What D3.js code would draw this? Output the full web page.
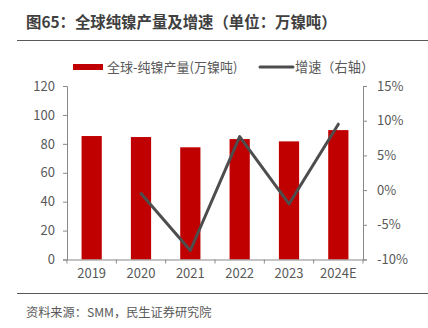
<!DOCTYPE html>
<html><head><meta charset="utf-8">
<script src="https://cdn.jsdelivr.net/npm/d3@7"></script>
<style>body{margin:0;background:#fff}svg{display:block;font-family:"Noto Sans CJK SC","Noto Sans",sans-serif}</style>
</head><body>
<script>
const categories = ["2019","2020","2021","2022","2023","2024E"];
const production = [85.4, 84.7, 77.6, 83.3, 81.7, 89.5];
const growth = [null, -0.5, -8.7, 7.7, -2.0, 9.5];
const leftTicks = [0,20,40,60,80,100,120];
const rightTicks = [-10,-5,0,5,10,15];
const title = "图65：全球纯镍产量及增速（单位：万镍吨）";
const legendBar = "全球-纯镍产量(万镍吨)";
const legendLine = "增速（右轴）";
const source = "资料来源：SMM，民生证券研究院";

const W=428,H=328;
const svg=d3.select("body").append("svg").attr("width",W).attr("height",H);
const x0=67,x1=363,yTop=86,yBot=259.5;
const x=d3.scaleBand().domain(categories).range([x0,x1]).paddingInner(0.59).paddingOuter(0.295);
const xb=d3.scaleBand().domain(categories).range([x0,x1]);
const yL=d3.scaleLinear().domain([0,120]).range([yBot,yTop]);
const yR=d3.scaleLinear().domain([-10,15]).range([yBot,yTop]);

svg.append("text").attr("x",26).attr("y",27.5).attr("font-size",15.4).attr("font-weight","bold").attr("fill","#404040").text(title);
svg.append("line").attr("x1",17).attr("x2",428).attr("y1",40.5).attr("y2",40.5).attr("stroke","#595959").attr("stroke-width",1);
svg.append("line").attr("x1",17).attr("x2",428).attr("y1",293.5).attr("y2",293.5).attr("stroke","#595959").attr("stroke-width",1);
svg.append("text").attr("x",26).attr("y",317).attr("font-size",12.2).attr("fill","#595959").text(source);

// legend
svg.append("rect").attr("x",73).attr("y",64).attr("width",30).attr("height",6).attr("fill","#c00000");
svg.append("text").attr("x",107).attr("y",72).attr("font-size",13).attr("fill","#595959").text(legendBar);
svg.append("line").attr("x1",260).attr("x2",293).attr("y1",67).attr("y2",67).attr("stroke","#4d4d4d").attr("stroke-width",3).attr("stroke-linecap","round");
svg.append("text").attr("x",295).attr("y",72).attr("font-size",13.2).attr("fill","#595959").text(legendLine);

// bars
svg.selectAll("rect.bar").data(categories).enter().append("rect").attr("class","bar")
 .attr("x",d=>x(d)).attr("width",x.bandwidth())
 .attr("y",(d,i)=>yL(production[i])).attr("height",(d,i)=>yBot-yL(production[i]))
 .attr("fill","#c00000");

// axes
const axCol="#898989", txtCol="#595959";
function style(g){g.selectAll("path,line").attr("stroke",axCol);g.selectAll("text").attr("fill",txtCol).attr("font-size",13).attr("font-family",'"Noto Sans CJK SC","Noto Sans",sans-serif');}
svg.append("g").attr("transform",`translate(${x0},0)`).call(d3.axisLeft(yL).tickValues(leftTicks).tickSize(4).tickSizeOuter(4).tickPadding(8)).call(style);
svg.append("g").attr("transform",`translate(${x1},0)`).call(d3.axisRight(yR).tickValues(rightTicks).tickFormat(d=>d+"%").tickSize(4).tickSizeOuter(4).tickPadding(10)).call(style);
const xg=svg.append("g").attr("transform",`translate(0,${yBot})`).call(d3.axisBottom(xb).tickSize(0).tickPadding(9)).call(style);
xg.selectAll(".tick line").remove();
// category boundary ticks
const bounds=categories.map(c=>xb(c)).concat([x1]);
svg.selectAll("line.xt").data(bounds).enter().append("line").attr("x1",d=>d).attr("x2",d=>d).attr("y1",yBot).attr("y2",yBot+4).attr("stroke",axCol);

// line
const pts=categories.map((c,i)=>({c,v:growth[i]})).filter(d=>d.v!==null);
svg.append("path").datum(pts).attr("fill","none").attr("stroke","#4d4d4d").attr("stroke-width",3).attr("stroke-linejoin","round").attr("stroke-linecap","round")
 .attr("d",d3.line().x(d=>xb(d.c)+xb.bandwidth()/2).y(d=>yR(d.v)));
</script>
</body></html>
